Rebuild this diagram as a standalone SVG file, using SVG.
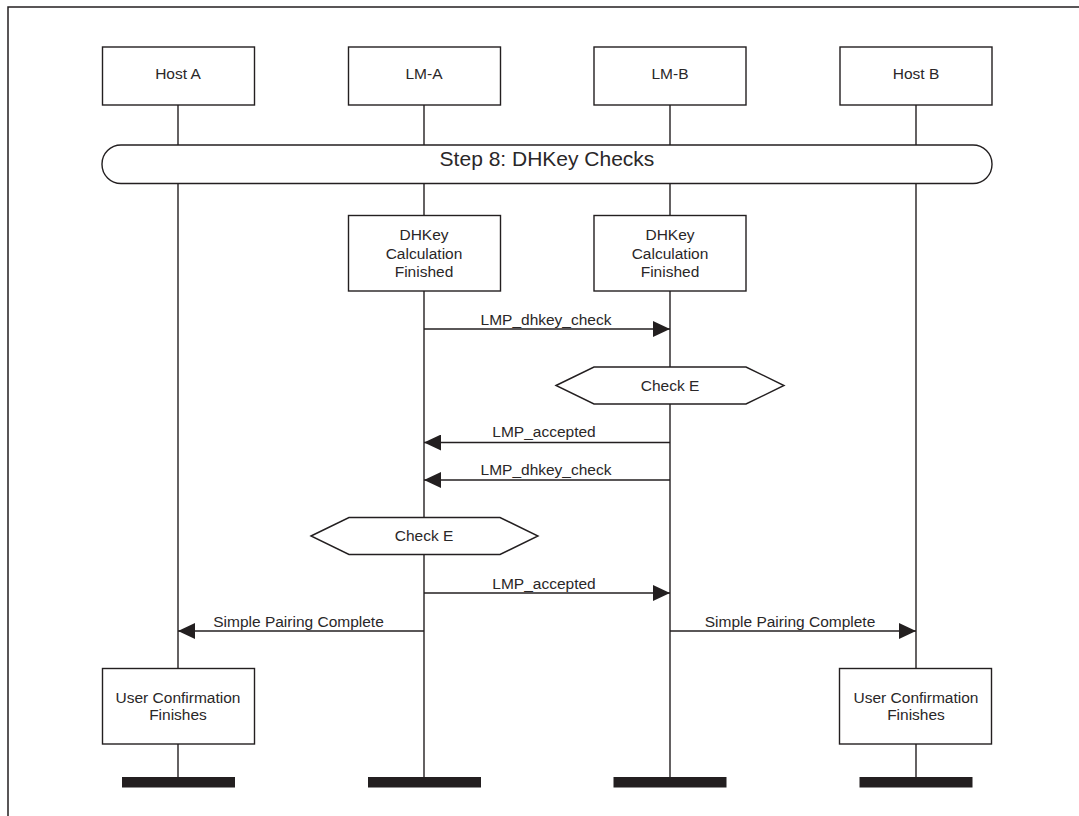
<svg xmlns="http://www.w3.org/2000/svg" width="1079" height="816" viewBox="0 0 1079 816">
<style>
.box{fill:#fff;stroke:#231f20;stroke-width:1.4}
.life{stroke:#231f20;stroke-width:1.4;fill:none}
.msg{stroke:#231f20;stroke-width:1.5;fill:none}
.bar{fill:#231f20}
text{font-family:"Liberation Sans",Arial,sans-serif;font-size:15.5px;fill:#2a2728;text-anchor:middle}
.big{font-size:21px}
</style>
<defs>
<marker id="ah" markerWidth="17" markerHeight="16" refX="17" refY="8" orient="auto" markerUnits="userSpaceOnUse">
<path d="M0,0 L17,8 L0,16 Z" fill="#231f20"/>
</marker>
</defs>
<rect x="0" y="0" width="1079" height="816" fill="#fff"/>
<rect x="8" y="7" width="1200" height="900" fill="none" stroke="#231f20" stroke-width="1.5"/>

<g id="lifelines">
<line class="life" x1="178" y1="105" x2="178" y2="777"/>
<line class="life" x1="424" y1="105" x2="424" y2="777"/>
<line class="life" x1="670" y1="105" x2="670" y2="777"/>
<line class="life" x1="916" y1="105" x2="916" y2="777"/>
</g>

<g id="hostA">
<rect class="box" x="102.5" y="47" width="152" height="58"/>
<text x="178" y="78.5">Host A</text>
</g>
<g id="lmA">
<rect class="box" x="348.5" y="47" width="152" height="58"/>
<text x="424" y="78.5">LM-A</text>
</g>
<g id="lmB">
<rect class="box" x="594" y="47" width="152" height="58"/>
<text x="670" y="78.5">LM-B</text>
</g>
<g id="hostB">
<rect class="box" x="840" y="47" width="152" height="58"/>
<text x="916" y="78.5">Host B</text>
</g>

<g id="step8">
<rect class="box" x="102" y="145" width="890" height="38.5" rx="19" ry="19"/>
<text class="big" x="547" y="165.5">Step 8: DHKey Checks</text>
</g>

<g id="dhkeyA">
<rect class="box" x="348.5" y="215.5" width="152" height="75.5"/>
<text x="424" y="239.5">DHKey</text>
<text x="424" y="258.5">Calculation</text>
<text x="424" y="277">Finished</text>
</g>
<g id="dhkeyB">
<rect class="box" x="594" y="215.5" width="152" height="75.5"/>
<text x="670" y="239.5">DHKey</text>
<text x="670" y="258.5">Calculation</text>
<text x="670" y="277">Finished</text>
</g>

<g id="checkEB">
<polygon class="box" points="556,385.5 594,367 746,367 784,385.5 746,404 594,404"/>
<text x="670" y="391">Check E</text>
</g>
<g id="checkEA">
<polygon class="box" points="311,536 349,517.5 500,517.5 538,536 500,554.5 349,554.5"/>
<text x="424" y="541">Check E</text>
</g>

<g id="userConfA">
<rect class="box" x="102.5" y="668.5" width="152" height="75.5"/>
<text x="178" y="702.5">User Confirmation</text>
<text x="178" y="720">Finishes</text>
</g>
<g id="userConfB">
<rect class="box" x="839.5" y="668.5" width="152" height="75.5"/>
<text x="916" y="702.5">User Confirmation</text>
<text x="916" y="720">Finishes</text>
</g>

<g id="ends">
<rect class="bar" x="122" y="777" width="113" height="10.5"/>
<rect class="bar" x="368" y="777" width="113" height="10.5"/>
<rect class="bar" x="613.5" y="777" width="113" height="10.5"/>
<rect class="bar" x="859.5" y="777" width="113" height="10.5"/>
</g>

<g id="connectors">
<line class="msg" x1="424" y1="329" x2="670" y2="329" marker-end="url(#ah)"/>
<text x="546" y="325">LMP_dhkey_check</text>
<line class="msg" x1="670" y1="442.5" x2="424" y2="442.5" marker-end="url(#ah)"/>
<text x="544" y="437">LMP_accepted</text>
<line class="msg" x1="670" y1="480" x2="424" y2="480" marker-end="url(#ah)"/>
<text x="546" y="474.5">LMP_dhkey_check</text>
<line class="msg" x1="424" y1="593" x2="670" y2="593" marker-end="url(#ah)"/>
<text x="544" y="588.5">LMP_accepted</text>
<line class="msg" x1="424" y1="631" x2="178" y2="631" marker-end="url(#ah)"/>
<text x="298.5" y="626.5">Simple Pairing Complete</text>
<line class="msg" x1="670" y1="631" x2="916" y2="631" marker-end="url(#ah)"/>
<text x="790" y="626.5">Simple Pairing Complete</text>
</g>
</svg>
